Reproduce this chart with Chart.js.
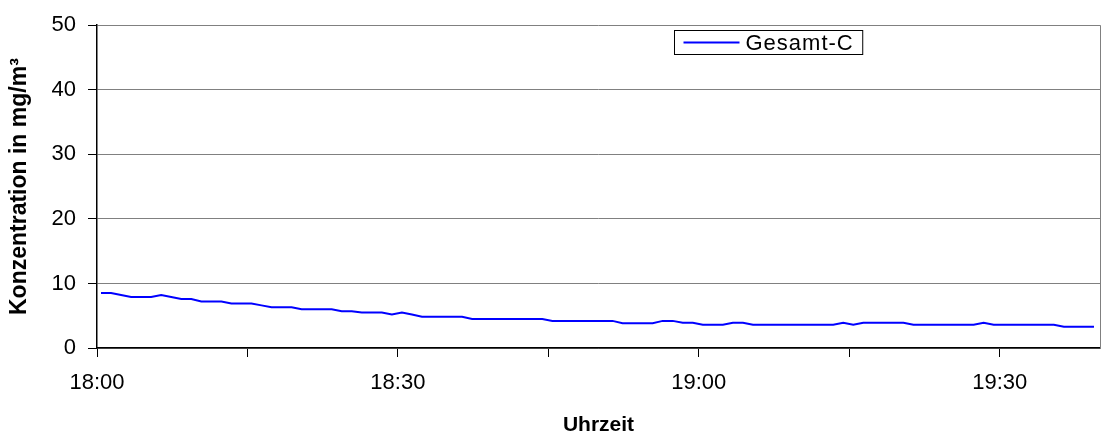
<!DOCTYPE html>
<html>
<head>
<meta charset="utf-8">
<script src="https://cdn.jsdelivr.net/npm/chart.js@4/dist/chart.umd.min.js"></script>
<style>
  html, body { margin: 0; padding: 0; background: #fff; }
  #wrap { width: 1109px; height: 441px; }
</style>
</head>
<body>
<div id="wrap"><canvas id="chart1"></canvas></div>
<script>
// Messwerte Gesamt-C, 1-Minuten-Werte ab 18:00
const startTime = '18:00';
const sampleOffset = 0.4; // Minuten nach Intervallbeginn
const gesamtC = [
    8.5, 8.5, 8.2, 7.9, 7.9, 7.9, 8.2, 7.9, 7.6, 7.6,
    7.2, 7.2, 7.2, 6.9, 6.9, 6.9, 6.6, 6.3, 6.3, 6.3,
    6.0, 6.0, 6.0, 6.0, 5.7, 5.7, 5.5, 5.5, 5.5, 5.2,
    5.5, 5.2, 4.85, 4.85, 4.85, 4.85, 4.85, 4.5, 4.5, 4.5,
    4.5, 4.5, 4.5, 4.5, 4.5, 4.2, 4.2, 4.2, 4.2, 4.2,
    4.2, 4.2, 3.85, 3.85, 3.85, 3.85, 4.2, 4.2, 3.9, 3.9,
    3.6, 3.6, 3.6, 3.9, 3.9, 3.6, 3.6, 3.6, 3.6, 3.6,
    3.6, 3.6, 3.6, 3.6, 3.9, 3.6, 3.9, 3.9, 3.9, 3.9,
    3.9, 3.6, 3.6, 3.6, 3.6, 3.6, 3.6, 3.6, 3.9, 3.6,
    3.6, 3.6, 3.6, 3.6, 3.6, 3.6, 3.3, 3.3, 3.3, 3.3
];
const xTickMinutes = [0, 15, 30, 45, 60, 75, 90];
const xTickLabels = ['18:00', '', '18:30', '', '19:00', '', '19:30'];
const xMax = 100;
const yMin = 0;
const yMax = 50;
const yStep = 10;

const FONT = "'Liberation Sans', Arial, sans-serif";

// Rahmen rechts (grau) wie im Original
const frameRight = {
    id: 'frameRight',
    beforeDatasetsDraw(chart) {
        const a = chart.chartArea;
        const ctx = chart.ctx;
        ctx.save();
        ctx.strokeStyle = '#808080';
        ctx.lineWidth = 1;
        ctx.beginPath();
        ctx.moveTo(a.right + 0.5, a.top);
        ctx.lineTo(a.right + 0.5, a.bottom);
        ctx.stroke();
        ctx.restore();
    }
};

// Legende im Diagramm
const boxLegend = {
    id: 'boxLegend',
    afterDraw(chart) {
        const a = chart.chartArea;
        const ctx = chart.ctx;
        const ds = chart.data.datasets[0];
        ctx.save();
        ctx.font = '22px ' + FONT;
        ctx.letterSpacing = '1px';
        const tw = ctx.measureText(ds.label).width;
        const x = Math.round(a.left + 0.575 * (a.right - a.left)) + 0.5;
        const y = Math.round(a.top + 5) + 0.5;
        const w = 9 + 56 + 6 + tw + 9;
        const h = 24;
        ctx.fillStyle = '#fff';
        ctx.fillRect(x, y, w, h);
        ctx.strokeStyle = '#000';
        ctx.lineWidth = 1;
        ctx.strokeRect(x, y, w, h);
        ctx.strokeStyle = ds.borderColor;
        ctx.lineWidth = ds.borderWidth;
        ctx.beginPath();
        ctx.moveTo(x + 9, y + h / 2);
        ctx.lineTo(x + 9 + 56, y + h / 2);
        ctx.stroke();
        ctx.fillStyle = '#000';
        ctx.textBaseline = 'middle';
        ctx.fillText(ds.label, x + 9 + 56 + 6, y + h / 2 + 1);
        ctx.restore();
    }
};

const points = gesamtC.map((v, i) => ({ x: i + sampleOffset, y: v }));

new Chart(document.getElementById('chart1').getContext('2d'), {
    type: 'line',
    data: {
        datasets: [{
            label: 'Gesamt-C',
            data: points,
            borderColor: '#0000ff',
            borderWidth: 2,
            pointRadius: 0,
            tension: 0,
            fill: false
        }]
    },
    options: {
        responsive: true,
        maintainAspectRatio: false,
        animation: false,
        layout: { padding: { top: 23, right: 9, left: 0, bottom: 0 } },
        plugins: {
            legend: { display: false },
            tooltip: { enabled: false }
        },
        scales: {
            x: {
                type: 'linear',
                min: 0,
                max: xMax,
                afterBuildTicks: function (axis) {
                    axis.ticks = xTickMinutes.map(v => ({ value: v }));
                },
                afterFit: function (axis) { axis.height = 93; },
                ticks: {
                    autoSkip: false,
                    maxRotation: 0,
                    padding: 13,
                    color: '#000',
                    font: { family: FONT, size: 22 },
                    callback: function (value) {
                        const i = xTickMinutes.indexOf(value);
                        return i >= 0 ? xTickLabels[i] : '';
                    }
                },
                grid: {
                    drawOnChartArea: false,
                    drawTicks: true,
                    tickLength: 9,
                    tickColor: '#000'
                },
                border: { color: '#000', width: 1.5 },
                title: {
                    display: true,
                    text: 'Uhrzeit',
                    color: '#000',
                    font: { family: FONT, size: 21, weight: 'bold' },
                    padding: { top: 0, bottom: 3 }
                }
            },
            y: {
                min: yMin,
                max: yMax,
                afterFit: function (axis) { axis.width = 97; },
                ticks: {
                    stepSize: yStep,
                    padding: 12,
                    color: '#000',
                    font: { family: FONT, size: 22 }
                },
                grid: {
                    color: '#808080',
                    lineWidth: 1,
                    tickLength: 9,
                    tickColor: '#000'
                },
                border: { color: '#000', width: 1.5 },
                title: {
                    display: true,
                    text: 'Konzentration in mg/m³',
                    color: '#000',
                    font: { family: FONT, size: 23, weight: 'bold' },
                    padding: { top: 6, bottom: 0 }
                }
            }
        }
    },
    plugins: [frameRight, boxLegend]
});
</script>
</body>
</html>
